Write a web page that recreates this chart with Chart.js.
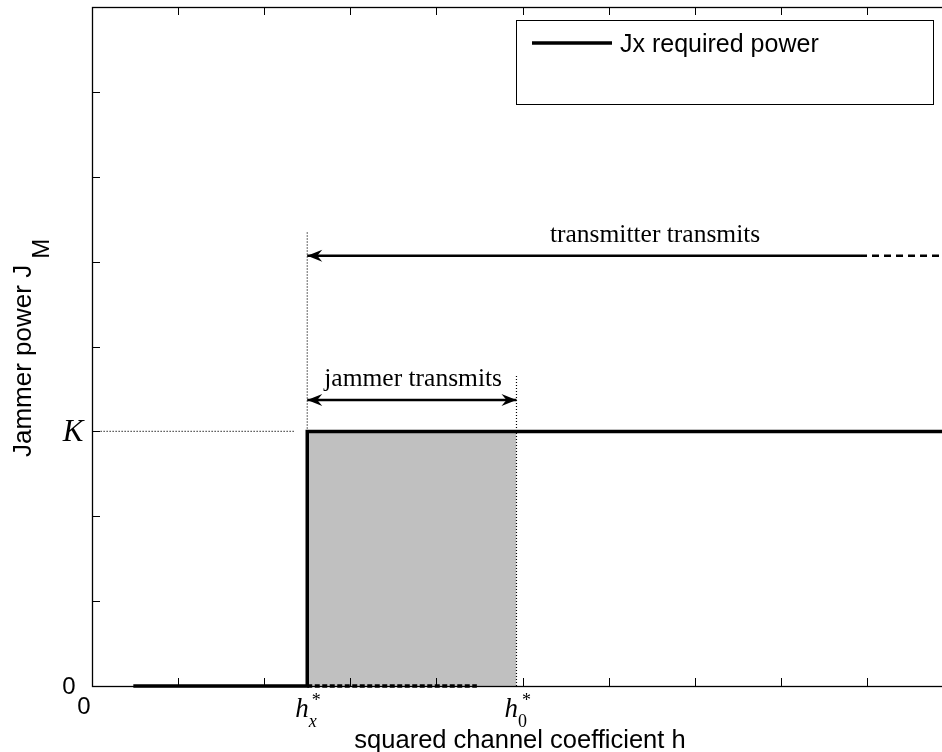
<!DOCTYPE html>
<html><head><meta charset="utf-8">
<script src="https://cdn.jsdelivr.net/npm/chart.js@4/dist/chart.umd.min.js"></script>
<style>
html,body{margin:0;padding:0;overflow:hidden;background:#fff;width:942px;height:752px}
canvas{display:block}
</style></head>
<body>
<canvas id="c" width="960" height="752" style="width:960px;height:752px"></canvas>
<script>
// ---- data ----
const xRange = [0, 10];
const yRange = [0, 8];
const K = 3;
const hxStar = 2.5;
const h0Star = 4.93;

const powerH = [0.48, 2.5, 2.5, 10];
const powerJ = [0, 0, 3, 3];
const shadedH = [2.5, 4.93];
const shadedJ = [3, 3];
const zeroDashH = [2.5, 4.47];
const zeroDashJ = [0, 0];
const kGuideH = [0.1, 2.35];
const kGuideJ = [3, 3];
const hxGuideH = [2.5, 2.5];
const hxGuideJ = [3, 5.36];
const h0GuideH = [4.93, 4.93];
const h0GuideJ = [0, 3.67];
const txArrowH = [2.5, 8.92];
const txArrowJ = [5.07, 5.07];
const txDashH = [8.92, 10];
const txDashJ = [5.07, 5.07];
const jamArrowH = [2.5, 4.93];
const jamArrowJ = [3.37, 3.37];

const yTickLabels = [{v: 0, t: '0'}, {v: 3, t: 'K'}];
const xTickLabels = [{v: 0, t: '0'}, {v: 2.5, t: 'h', sub: 'x', sup: '*'}, {v: 4.93, t: 'h', sub: '0', sup: '*'}];
const annotations = [
  {text: 'transmitter transmits', x: 6.54, y: 5.07},
  {text: 'jammer transmits', x: 3.73, y: 3.37}
];
const xTitle = 'squared channel coefficient h';
const yTitle = 'Jammer power J';
const yTitleSub = 'M';
const legendLabel = 'Jx required power';

const pts = (xs, ys) => xs.map((x, i) => ({x: x, y: ys[i]}));
const line = (xs, ys, w, dash, extra) => Object.assign({
  data: pts(xs, ys), borderColor: '#000', borderWidth: w, borderDash: dash || [],
  pointRadius: 0, fill: false, tension: 0, borderCapStyle: 'butt', clip: false
}, extra || {});

const SERIF = '"Liberation Serif", "Times New Roman", serif';
const SANS = '"Liberation Sans", Arial, sans-serif';

const decor = {
  id: 'decor',
  afterDatasetsDraw(chart) {
    const ctx = chart.ctx, xs = chart.scales.x, ys = chart.scales.y, ca = chart.chartArea;
    ctx.save();
    ctx.strokeStyle = '#000'; ctx.fillStyle = '#000'; ctx.lineWidth = 1; ctx.setLineDash([]);
    // inward ticks
    xs.ticks.forEach(t => {
      const p = Math.round(xs.getPixelForValue(t.value)) + 0.5;
      ctx.beginPath();
      ctx.moveTo(p, ca.bottom); ctx.lineTo(p, ca.bottom - 8);
      ctx.moveTo(p, ca.top); ctx.lineTo(p, ca.top + 8);
      ctx.stroke();
    });
    ys.ticks.forEach(t => {
      const p = Math.round(ys.getPixelForValue(t.value)) + 0.5;
      ctx.beginPath();
      ctx.moveTo(ca.left, p); ctx.lineTo(ca.left + 8, p);
      ctx.moveTo(ca.right, p); ctx.lineTo(ca.right - 8, p);
      ctx.stroke();
    });
    // box
    ctx.lineWidth = 1.3;
    ctx.strokeRect(Math.round(ca.left) + 0.5, Math.round(ca.top) + 0.5,
      Math.round(ca.right - ca.left), Math.round(ca.bottom - ca.top));
    // dashed zero segment redrawn over the axis line
    ctx.lineWidth = 3.5; ctx.setLineDash([5, 2.5]);
    ctx.beginPath();
    ctx.moveTo(xs.getPixelForValue(zeroDashH[0]), ys.getPixelForValue(zeroDashJ[0]));
    ctx.lineTo(xs.getPixelForValue(zeroDashH[1]), ys.getPixelForValue(zeroDashJ[1]));
    ctx.stroke();
    ctx.setLineDash([]);
    // arrowheads
    const head = (x, y, dir) => {
      ctx.beginPath();
      ctx.moveTo(x, y);
      ctx.lineTo(x + dir * 15, y - 6);
      ctx.lineTo(x + dir * 10, y);
      ctx.lineTo(x + dir * 15, y + 6);
      ctx.closePath();
      ctx.fill();
    };
    head(xs.getPixelForValue(txArrowH[0]), ys.getPixelForValue(txArrowJ[0]), 1);
    head(xs.getPixelForValue(jamArrowH[0]), ys.getPixelForValue(jamArrowJ[0]), 1);
    head(xs.getPixelForValue(jamArrowH[1]), ys.getPixelForValue(jamArrowJ[1]), -1);
    // annotations
    ctx.font = '25.5px ' + SERIF;
    ctx.textAlign = 'center'; ctx.textBaseline = 'alphabetic';
    annotations.forEach(a => {
      ctx.fillText(a.text, xs.getPixelForValue(a.x), ys.getPixelForValue(a.y) - 14);
    });
    // y tick labels
    yTickLabels.forEach(l => {
      const p = ys.getPixelForValue(l.v);
      ctx.textAlign = 'center'; ctx.textBaseline = 'middle';
      if (l.t === 'K') { ctx.font = 'italic 31px ' + SERIF; ctx.fillText(l.t, ca.left - 19, p + 1); }
      else { ctx.font = '24px ' + SANS; ctx.fillText(l.t, ca.left - 23, p + 1); }
    });
    // x tick labels
    xTickLabels.forEach(l => {
      const p = xs.getPixelForValue(l.v);
      if (!l.sub) {
        ctx.font = '24px ' + SANS; ctx.textAlign = 'center'; ctx.textBaseline = 'alphabetic';
        ctx.fillText(l.t, p - 8, ca.bottom + 28);
      } else {
        ctx.textAlign = 'left'; ctx.textBaseline = 'alphabetic';
        ctx.font = 'italic 27px ' + SERIF;
        const hx = p - 12;
        ctx.fillText(l.t, hx, ca.bottom + 31);
        const w = ctx.measureText(l.t).width;
        ctx.font = (l.sub === 'x' ? 'italic ' : '') + '18px ' + SERIF;
        ctx.fillText(l.sub, hx + w + 0, ca.bottom + 41);
        ctx.font = '18px ' + SERIF;
        ctx.fillText(l.sup, hx + w + (l.sub === 'x' ? 3 : 4), ca.bottom + 20);
      }
    });
    // axis titles
    ctx.font = '25.5px ' + SANS; ctx.textAlign = 'center'; ctx.textBaseline = 'alphabetic';
    ctx.fillText(xTitle, (ca.left + 942) / 2 + 3, 748);
    ctx.save();
    ctx.translate(31, 457); ctx.rotate(-Math.PI / 2);
    ctx.textAlign = 'left';
    ctx.font = '26px ' + SANS;
    ctx.fillText(yTitle, 0, 0);
    const tw = ctx.measureText(yTitle).width;
    ctx.font = '24px ' + SANS;
    ctx.fillText(yTitleSub, tw + 6, 18);
    ctx.restore();
    // legend
    ctx.lineWidth = 1; ctx.fillStyle = '#fff';
    ctx.fillRect(516, 20, 417, 84);
    ctx.strokeRect(516.5, 20.5, 417, 84);
    ctx.strokeStyle = '#000'; ctx.lineWidth = 3.5;
    ctx.beginPath(); ctx.moveTo(532, 43); ctx.lineTo(612, 43); ctx.stroke();
    ctx.fillStyle = '#000'; ctx.font = '25px ' + SANS; ctx.textAlign = 'left'; ctx.textBaseline = 'middle';
    ctx.fillText(chart.data.datasets[0].label, 620, 45);
    ctx.restore();
  }
};

new Chart(document.getElementById('c'), {
  type: 'line',
  data: {
    datasets: [
      line(powerH, powerJ, 3.5, null, {label: legendLabel}),
      line(txArrowH, txArrowJ, 2.5),
      line(txDashH, txDashJ, 2.5, [7, 5]),
      line(jamArrowH, jamArrowJ, 2.5),
      line(hxGuideH, hxGuideJ, 1.2, [1, 2]),
      line(h0GuideH, h0GuideJ, 1.2, [1, 2]),
      line(kGuideH, kGuideJ, 1.2, [1, 2]),
      line(shadedH, shadedJ, 0, null, {fill: 'origin', backgroundColor: '#c0c0c0'})
    ]
  },
  options: {
    responsive: false, animation: false, devicePixelRatio: 1,
    layout: {padding: {top: 7, right: 7, left: 0, bottom: 0}},
    plugins: {legend: {display: false}, tooltip: {enabled: false}},
    scales: {
      x: {type: 'linear', min: xRange[0], max: xRange[1],
          ticks: {display: false, stepSize: 1}, grid: {display: false}, border: {display: false},
          afterFit(s) { s.height = 66; }},
      y: {type: 'linear', min: yRange[0], max: yRange[1],
          ticks: {display: false, stepSize: 1}, grid: {display: false}, border: {display: false},
          afterFit(s) { s.width = 92; }}
    }
  },
  plugins: [decor]
});
</script>
</body></html>
